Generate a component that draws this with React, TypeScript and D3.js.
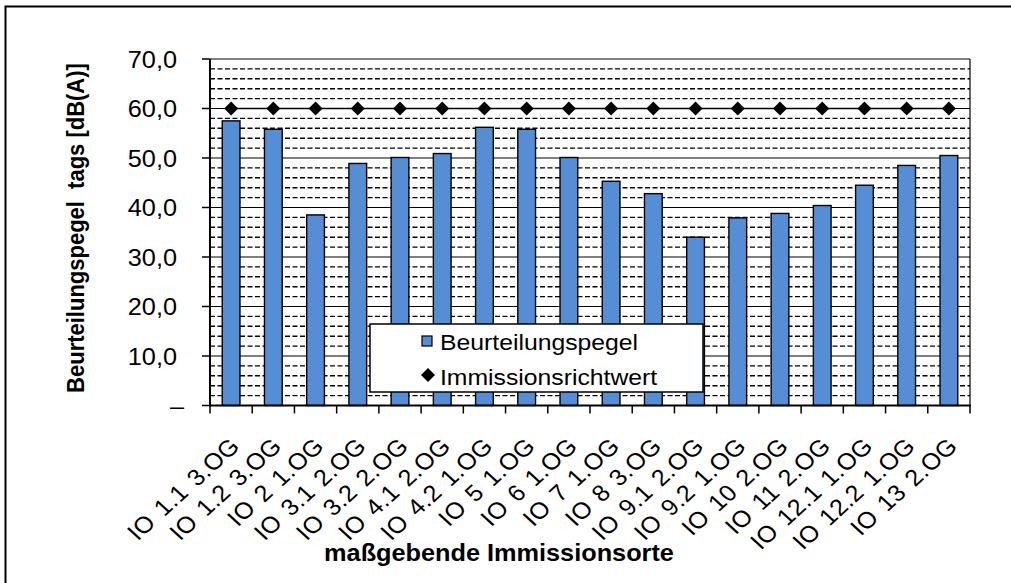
import React from "react";
import * as d3 from "d3";

const categories = [
  "IO 1.1 3.OG", "IO 1.2 3.OG", "IO 2 1.OG", "IO 3.1 2.OG", "IO 3.2 2.OG",
  "IO 4.1 2.OG", "IO 4.2 1.OG", "IO 5 1.OG", "IO 6 1.OG", "IO 7 1.OG",
  "IO 8 3.OG", "IO 9.1 2.OG", "IO 9.2 1.OG", "IO 10 2.OG", "IO 11 2.OG",
  "IO 12.1 1.OG", "IO 12.2 1.OG", "IO 13 2.OG",
];
const beurteilungspegel = [
  57.5, 55.8, 38.5, 48.9, 50.1, 50.9, 56.2, 55.8, 50.1, 45.3,
  42.8, 34.0, 37.9, 38.8, 40.4, 44.5, 48.5, 50.5,
];
const immissionsrichtwert = [
  60, 60, 60, 60, 60, 60, 60, 60, 60, 60, 60, 60, 60, 60, 60, 60, 60, 60,
];
const yTicks = [0, 10, 20, 30, 40, 50, 60, 70];
const yTickLabels = ["–", "10,0", "20,0", "30,0", "40,0", "50,0", "60,0", "70,0"];
const minorTicks = d3.range(0, 70.001, 2).filter((v) => v % 10 !== 0);

const W = 1011;
const H = 583;
const left = 210, right = 970, top = 59, bottom = 405.5;
const SX = 1.1;
const FONT = "'Liberation Sans', Arial, sans-serif";
const BAR = "#558ED5";

export default function App() {
  const x = d3.scaleBand<string>().domain(categories).range([left, right]).paddingInner(0.58).paddingOuter(0.29);
  const step = x.step();
  const y = d3.scaleLinear().domain([0, 70]).range([bottom, top]);
  const diamond = d3.symbol().type(d3.symbolDiamond2).size(125)();
  const cx = (c: string) => (x(c) as number) + x.bandwidth() / 2;
  const line = d3.line<number>().x((_, i) => cx(categories[i])).y((v) => y(v));
  const bounds = d3.range(categories.length + 1).map((i) => left + i * step);

  return (
    <svg width={W} height={H} style={{ position: "absolute", left: 0, top: 0, background: "#fff" }}>
      <rect x={5.5} y={6.5} width={1020} height={600} fill="#fff" stroke="#000" strokeWidth={2} />
      {minorTicks.map((v) => (
        <line key={"m" + v} x1={left} x2={right} y1={y(v)} y2={y(v)} stroke="#000" strokeWidth={1.4} strokeDasharray="5,2.5" />
      ))}
      {yTicks.map((v) => (
        <line key={"g" + v} x1={left} x2={right} y1={y(v)} y2={y(v)} stroke="#000" strokeWidth={1.2} />
      ))}
      <line x1={right} x2={right} y1={top} y2={bottom} stroke="#000" strokeWidth={1.2} />
      {categories.map((c, i) => (
        <rect key={"b" + i} x={x(c)} y={y(beurteilungspegel[i])} width={x.bandwidth()} height={bottom - y(beurteilungspegel[i])} fill={BAR} stroke="#000" strokeWidth={1.4} />
      ))}
      <path d={line(immissionsrichtwert) || ""} fill="none" stroke="#000" strokeWidth={1.4} />
      {categories.map((c, i) => (
        <path key={"d" + i} d={diamond || ""} transform={`translate(${cx(c)},${y(immissionsrichtwert[i])})`} fill="#000" />
      ))}
      <line x1={left} x2={left} y1={top} y2={bottom + 1} stroke="#000" strokeWidth={2} />
      <line x1={left - 1} x2={right + 1} y1={bottom} y2={bottom} stroke="#000" strokeWidth={2} />
      {yTicks.map((v) => (
        <line key={"yt" + v} x1={left - 8} x2={left} y1={y(v)} y2={y(v)} stroke="#000" strokeWidth={1.5} />
      ))}
      {bounds.map((bx, i) => (
        <line key={"xt" + i} x1={bx} x2={bx} y1={bottom} y2={bottom + 8} stroke="#000" strokeWidth={1.5} />
      ))}
      {yTicks.map((v, i) => (
        <text key={"yl" + v} transform={`translate(${i === 0 ? 184 : 177},${y(v) + 8.5}) scale(${SX},1)`} textAnchor="end" fontFamily={FONT} fontSize={23} fill="#000">
          {yTickLabels[i]}
        </text>
      ))}
      {categories.map((c, i) => (
        <text key={"xl" + i} transform={`translate(${cx(c) + 10},${bottom + 42}) scale(${SX},1) rotate(-45)`} textAnchor="end" fontFamily={FONT} fontSize={23} letterSpacing={0.4} fill="#000" style={{ whiteSpace: "pre" }}>
          {c.replace(/ /g, " \u200A")}
        </text>
      ))}
      <text transform={`translate(84,228) scale(${SX},1) rotate(-90)`} textAnchor="middle" fontFamily={FONT} fontWeight="bold" fontSize={22} fill="#000" style={{ whiteSpace: "pre" }}>
        {"Beurteilungspegel  tags [dB(A)]"}
      </text>
      <text transform={`translate(499,561) scale(${SX},1)`} textAnchor="middle" fontFamily={FONT} fontWeight="bold" fontSize={23} fill="#000">
        maßgebende Immissionsorte
      </text>
      <rect x={370} y={324} width={333} height={68} fill="#fff" stroke="#000" strokeWidth={1.5} />
      <rect x={422} y={336} width={10} height={10} fill={BAR} stroke="#000" strokeWidth={1.2} />
      <text transform={`translate(440,350) scale(${SX},1)`} fontFamily={FONT} fontSize={22.5} fill="#000">Beurteilungspegel</text>
      <path d={diamond || ""} transform={`translate(428,375)`} fill="#000" />
      <text transform={`translate(440,385) scale(${SX},1)`} fontFamily={FONT} fontSize={22.5} fill="#000">Immissionsrichtwert</text>
    </svg>
  );
}
